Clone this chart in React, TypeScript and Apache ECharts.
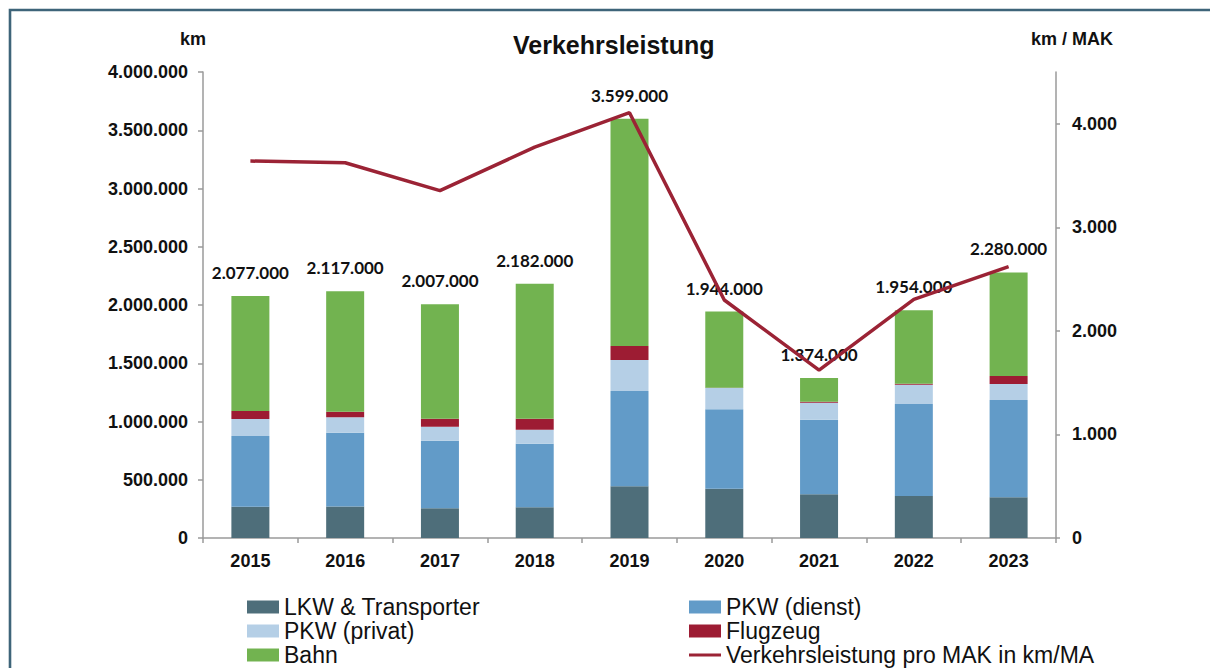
import React, { useEffect, useRef } from "react";
import * as echarts from "echarts";

const years = ["2015", "2016", "2017", "2018", "2019", "2020", "2021", "2022", "2023"];
const lkw = [269000, 270000, 255000, 263000, 444000, 423000, 375000, 360000, 349000];
const pkwDienst = [607000, 634000, 580000, 547000, 818000, 682000, 641000, 790000, 836000];
const pkwPrivat = [146000, 132000, 120000, 120000, 266000, 183000, 146000, 166000, 137000];
const flugzeug = [69000, 48000, 69000, 94000, 120000, 2000, 8000, 8000, 69000];
const totals = [2077000, 2117000, 2007000, 2182000, 3599000, 1944000, 1374000, 1954000, 2280000];
const bahn = totals.map((t, i) => t - lkw[i] - pkwDienst[i] - pkwPrivat[i] - flugzeug[i]);
const proMak = [3640, 3624, 3354, 3775, 4107, 2298, 1622, 2305, 2620];
const leftTicks = [0, 500000, 1000000, 1500000, 2000000, 2500000, 3000000, 3500000, 4000000];
const rightTicks = [0, 1000, 2000, 3000, 4000];
const legendCol1 = ["LKW & Transporter", "PKW (privat)", "Bahn"];
const legendCol2 = ["PKW (dienst)", "Flugzeug", "Verkehrsleistung pro MAK in km/MA"];

const fmt = (v: number) => String(Math.round(v)).replace(/\B(?=(\d{3})+(?!\d))/g, ".");

const AXIS_FONT = "'Liberation Sans', Arial, sans-serif";

export default function App() {
  const ref = useRef<HTMLDivElement>(null);
  useEffect(() => {
    if (!ref.current) return;
    const chart = echarts.init(ref.current, undefined, { renderer: "svg" });
    const axisLine = { show: true, lineStyle: { color: "#9a9a9a", width: 1.5 } };
    const barBase = { type: "bar", stack: "total", barWidth: 38, yAxisIndex: 0 };
    const legendItem = (name: string, left: number, row: number, isLine: boolean) => ({
      orient: "vertical",
      left,
      top: 595 + row * 24,
      padding: 0,
      itemWidth: 32,
      itemHeight: isLine ? 3 : 13,
      icon: "rect",
      textStyle: { fontFamily: AXIS_FONT, fontSize: 23, lineHeight: 24, color: "#111" },
      data: [name],
    });
    chart.setOption({
      animation: false,
      backgroundColor: "#ffffff",
      title: {
        text: "Verkehrsleistung",
        left: 508,
        top: 27,
        textStyle: { fontFamily: AXIS_FONT, fontSize: 25, fontWeight: "bold", color: "#111" },
      },
      grid: { left: 203, right: 154, top: 72, bottom: 130, containLabel: false },
      legend: [
        ...legendCol1.map((n, i) => legendItem(n, 247, i, false)),
        ...legendCol2.map((n, i) => legendItem(n, 689, i, i === 2)),
      ],
      xAxis: {
        type: "category",
        data: years,
        axisLine,
        axisTick: { show: true, length: 5, lineStyle: { color: "#9a9a9a", width: 1.5 } },
        axisLabel: { fontFamily: AXIS_FONT, fontSize: 18, fontWeight: "bold", color: "#111", margin: 14 },
        splitLine: { show: false },
      },
      yAxis: [
        {
          type: "value",
          min: 0,
          max: 4000000,
          interval: 500000,
          axisLine,
          axisTick: { show: true, length: 5, lineStyle: { color: "#9a9a9a", width: 1.5 } },
          axisLabel: {
            fontFamily: AXIS_FONT,
            fontSize: 18,
            fontWeight: "bold",
            color: "#111",
            margin: 15,
            customValues: leftTicks,
            formatter: (v: number) => fmt(v),
          },
          splitLine: { show: false },
        },
        {
          type: "value",
          min: 0,
          max: 4500,
          interval: 500,
          position: "right",
          axisLine,
          axisTick: {
            show: true,
            length: 4,
            customValues: rightTicks,
            lineStyle: { color: "#9a9a9a", width: 1.5 },
          },
          axisLabel: {
            fontFamily: AXIS_FONT,
            fontSize: 18,
            fontWeight: "bold",
            color: "#111",
            margin: 16,
            customValues: rightTicks,
            formatter: (v: number) => fmt(v),
          },
          splitLine: { show: false },
        },
      ],
      series: [
        { ...barBase, name: "LKW & Transporter", data: lkw, itemStyle: { color: "#4e6e7a" } },
        { ...barBase, name: "PKW (dienst)", data: pkwDienst, itemStyle: { color: "#629bc8" } },
        { ...barBase, name: "PKW (privat)", data: pkwPrivat, itemStyle: { color: "#b5cfe6" } },
        { ...barBase, name: "Flugzeug", data: flugzeug, itemStyle: { color: "#9d1c33" } },
        {
          ...barBase,
          name: "Bahn",
          data: bahn,
          itemStyle: { color: "#72b350" },
          label: {
            show: true,
            position: "top",
            distance: 15,
            fontFamily: "Lato, 'Open Sans', sans-serif",
            fontSize: 17,
            fontWeight: "bold",
            color: "#111",
            formatter: (p: any) => fmt(totals[p.dataIndex]),
          },
        },
        {
          type: "line",
          name: "Verkehrsleistung pro MAK in km/MA",
          yAxisIndex: 1,
          data: proMak,
          symbol: "none",
          z: 10,
          lineStyle: { color: "#9b2335", width: 3.5 },
          itemStyle: { color: "#9b2335" },
        },
      ],
      graphic: [
        {
          type: "rect",
          shape: { x: 10, y: 10, width: 1230, height: 720 },
          style: { fill: "none", stroke: "#3e6479", lineWidth: 2.6 },
          silent: true,
        },
        {
          type: "text",
          x: 193,
          y: 39,
          style: {
            text: "km",
            fontFamily: AXIS_FONT,
            fontSize: 18,
            fontWeight: "bold",
            fill: "#111",
            align: "center",
            verticalAlign: "middle",
          },
        },
        {
          type: "text",
          x: 1072,
          y: 39,
          style: {
            text: "km / MAK",
            fontFamily: AXIS_FONT,
            fontSize: 18,
            fontWeight: "bold",
            fill: "#111",
            align: "center",
            verticalAlign: "middle",
          },
        },
      ],
    });
    return () => chart.dispose();
  }, []);
  return (
    <div
      ref={ref}
      style={{ position: "absolute", left: 0, top: 0, width: 1210, height: 668, overflow: "hidden" }}
    />
  );
}
